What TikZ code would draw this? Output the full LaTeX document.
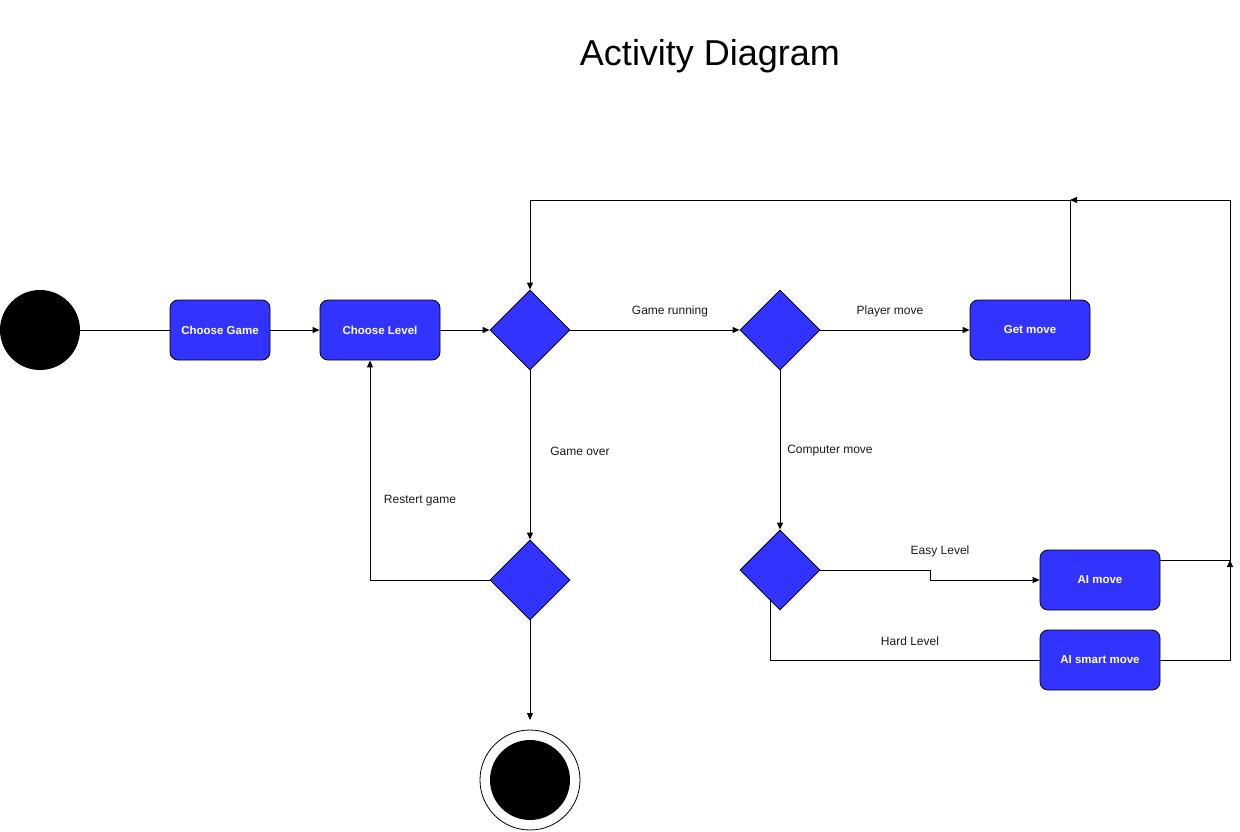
\documentclass[tikz,border=0pt]{standalone}
\usepackage{fontspec}
\setmainfont{Liberation Sans}
\usetikzlibrary{arrows.meta,shapes.geometric}
\definecolor{actblue}{HTML}{3333FF}
\definecolor{labelgray}{HTML}{1A1A1A}
\begin{document}
\begin{tikzpicture}[x=1pt,y=-1pt,
  action/.style={draw=black,line width=0.8pt,fill=actblue,rounded corners=8pt,minimum width=#1,minimum height=60pt,inner sep=0pt,
    text=white,font=\fontsize{11.5}{13}\selectfont\bfseries},
  decision/.style={diamond,draw=black,line width=0.8pt,fill=actblue,minimum width=80pt,minimum height=80pt,inner sep=0pt,aspect=1},
  flow/.style={draw=black,line width=0.9pt},
  arr/.style={flow,-{Triangle[length=7pt,width=6pt]}},
  elabel/.style={text=labelgray,font=\fontsize{12}{14}\selectfont,inner sep=0pt}]
\useasboundingbox (0,0) rectangle (1240,831);

% title
\node[font=\fontsize{36}{40}\selectfont] (title) at (710,56) {Activity Diagram};

% start and end
\node[circle,fill=black,minimum size=80pt,inner sep=0pt] (start) at (40,330) {};
\node[circle,draw=black,line width=0.8pt,fill=white,minimum size=100pt,inner sep=0pt] (endo) at (530,780) {};
\node[circle,fill=black,minimum size=80pt,inner sep=0pt] (endi) at (530,780) {};

% actions
\node[action=100pt] (game) at (220,330) {Choose Game};
\node[action=120pt] (level) at (380,330) {Choose Level};
\node[action=120pt] (getmove) at (1030,330) {Get move};
\node[action=120pt] (ai) at (1100,580) {AI move};
\node[action=120pt] (aismart) at (1100,660) {AI smart move};

% decisions
\node[decision] (run) at (530,330) {};
\node[decision] (turn) at (780,330) {};
\node[decision] (over) at (530,580) {};
\node[decision] (diff) at (780,570) {};

% corner points
\coordinate (topL) at (530,200);
\coordinate (topR) at (1230,200);
\coordinate (join) at (1230,560);
\coordinate (merge) at (1070,200);
\coordinate (restart) at (370,580);
\coordinate (finish) at (530,720);

% flows
\draw[flow] (start.east) -- (game.west);
\draw[arr] (game.east) -- (level.west);
\draw[arr] (level.east) -- (run.west);
\draw[arr] (run.east) -- (turn.west);
\draw[arr] (turn.east) -- (getmove.west);
\draw[arr] (getmove.north -| merge) -- (merge) -- (topL) -- (run.north);
\draw[arr] (run.south) -- (over.north);
\draw[arr] (over.west) -- (restart) -- (restart |- level.south);
\draw[arr] (over.south) -- (finish);
\draw[arr] (turn.south) -- (diff.north);
\draw[arr] (diff.east) -- (930,570) -- (930,580) -- (ai.west);
\draw[flow] (770,600) -- (770,660) -- (aismart.west);
\draw[arr] (ai.east |- join) -- (join) -- (topR) -- (merge);
\draw[arr] (aismart.east) -| (join);

% flow labels
\node[elabel] (lrun) at (670,311) {Game running};
\node[elabel] (lplayer) at (890,311) {Player move};
\node[elabel] (lover) at (580,451) {Game over};
\node[elabel] (lrestart) at (420,501) {Restert game};
\node[elabel] (lcomp) at (830,451) {Computer move};
\node[elabel] (leasy) at (940,551) {Easy Level};
\node[elabel] (lhard) at (910,641) {Hard Level};
\end{tikzpicture}
\end{document}
